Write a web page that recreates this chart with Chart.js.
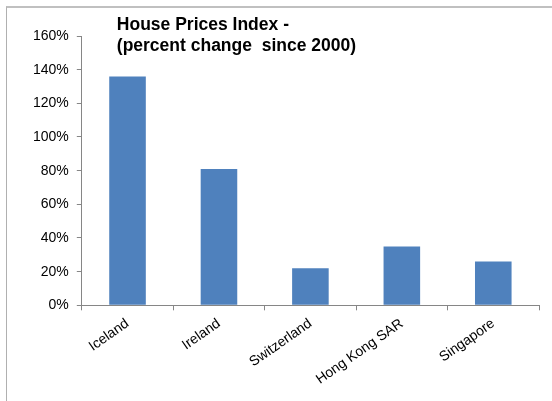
<!DOCTYPE html>
<html>
<head>
<meta charset="utf-8">
<script src="https://cdn.jsdelivr.net/npm/chart.js@4.4.0/dist/chart.umd.min.js"></script>
<style>
  html, body { margin: 0; padding: 0; background: #fff; }
  #wrap { position: relative; width: 552px; height: 401px; }
  #frame { position: absolute; left: 6px; top: 6px; right: -10px; bottom: -10px;
           border-left: 1px solid #b0b0b0; border-top: 2px solid #c0c0c0; pointer-events: none; }
</style>
</head>
<body>
<div id="wrap">
  <canvas id="myChart" width="552" height="401"></canvas>
  <div id="frame"></div>
</div>
<script>
const countries = ["Iceland", "Ireland", "Switzerland", "Hong Kong SAR", "Singapore"];
const changes = [136, 81, 22, 35, 26];
const titleLines = ["House Prices Index -", "(percent change  since 2000)"];

// title sits inside the plot area, like the original
const insideTitle = {
    id: "insideTitle",
    afterDraw(chart) {
        const ctx = chart.ctx;
        const area = chart.chartArea;
        ctx.save();
        ctx.fillStyle = "#000";
        ctx.font = "bold 17.5px 'Liberation Sans', Arial, sans-serif";
        ctx.textBaseline = "alphabetic";
        ctx.fillText(titleLines[0], area.left + 35, 30);
        ctx.fillText(titleLines[1], area.left + 35, 51);
        ctx.restore();
    }
};

const axisColor = "#868686";

const config = {
    type: "bar",
    data: {
        labels: countries,
        datasets: [{
            data: changes,
            backgroundColor: "#4f81bd",
            borderWidth: 0,
            barPercentage: 0.4,
            categoryPercentage: 1.0
        }]
    },
    options: {
        responsive: false,
        animation: false,
        layout: {
            padding: { left: 25, right: 13, top: 36, bottom: 8 }
        },
        plugins: {
            legend: { display: false },
            tooltip: { enabled: false },
            title: { display: false }
        },
        scales: {
            x: {
                grid: {
                    offset: true,
                    drawOnChartArea: false,
                    drawTicks: true,
                    tickLength: 5,
                    color: axisColor
                },
                border: { display: true, color: axisColor, width: 1 },
                ticks: {
                    color: "#000",
                    font: { family: "'Liberation Sans', Arial, sans-serif", size: 14 },
                    minRotation: 35,
                    maxRotation: 35,
                    padding: 5,
                    autoSkip: false
                }
            },
            y: {
                min: 0,
                max: 160,
                grid: {
                    drawOnChartArea: false,
                    drawTicks: true,
                    tickLength: 5,
                    color: axisColor
                },
                border: { display: true, color: axisColor, width: 1 },
                ticks: {
                    stepSize: 20,
                    color: "#000",
                    padding: 8,
                    font: { family: "'Liberation Sans', Arial, sans-serif", size: 14 },
                    callback: v => v + "%"
                }
            }
        }
    },
    plugins: [insideTitle]
};

const myChart = new Chart(document.getElementById("myChart"), config);
</script>
</body>
</html>
